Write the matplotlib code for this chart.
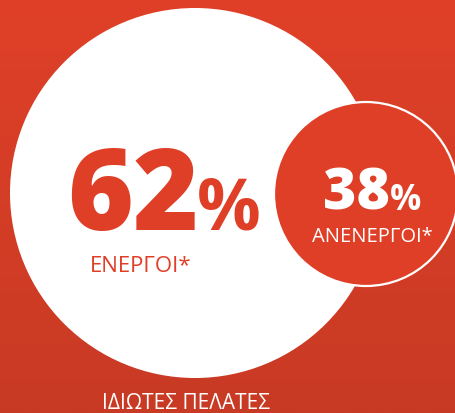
import numpy as np
import matplotlib.pyplot as plt
from matplotlib.patches import Circle

# data
labels = ["ΕΝΕΡΓΟΙ*", "ΑΝΕΝΕΡΓΟΙ*"]
values = [62, 38]
title = "ΙΔΙΩΤΕΣ ΠΕΛΑΤΕΣ"

red = "#E03F27"
fonts = ["Open Sans", "DejaVu Sans"]

fig = plt.figure(figsize=(4.56, 4.14), dpi=100)
ax = fig.add_axes([0, 0, 1, 1])
ax.set_xlim(0, 456)
ax.set_ylim(414, 0)
ax.axis("off")

# background gradient, lighter on top
top = np.array([0xE0, 0x40, 0x28]) / 255
bot = np.array([0xC8, 0x3A, 0x24]) / 255
t = np.linspace(0, 1, 200)[:, None]
grad = (top * (1 - t) + bot * t)[:, None, :]
ax.imshow(grad, extent=[0, 456, 414, 0], aspect="auto", zorder=0)

# big circle (62%) and small circle (38%)
ax.add_patch(Circle((195, 194), 185, facecolor="white", edgecolor="none", zorder=1))
ax.add_patch(Circle((366, 195), 92, facecolor=red, edgecolor="white", lw=1.6, zorder=2))

# 62%
ax.text(199, 230, str(values[0]), color=red, fontsize=81, fontweight="heavy",
        family=fonts, ha="right", va="baseline", zorder=3)
ax.text(197, 230, "%", color=red, fontsize=51, fontweight="bold",
        family=fonts, ha="left", va="baseline", zorder=3)
ax.text(90, 272, labels[0], color=red, fontsize=16, family=fonts,
        ha="left", va="baseline", zorder=3)

# 38%
ax.text(390, 210, str(values[1]), color="white", fontsize=41, fontweight="heavy",
        family=fonts, ha="right", va="baseline", zorder=3)
ax.text(390, 210, "%", color="white", fontsize=25, fontweight="bold",
        family=fonts, ha="left", va="baseline", zorder=3)
ax.text(372, 242, labels[1], color="white", fontsize=14.5, family=fonts,
        ha="center", va="baseline", zorder=3)

ax.text(186, 409, title, color="white", fontsize=15, family=fonts,
        ha="center", va="baseline", zorder=3)

fig.savefig("out.png", dpi=100)
